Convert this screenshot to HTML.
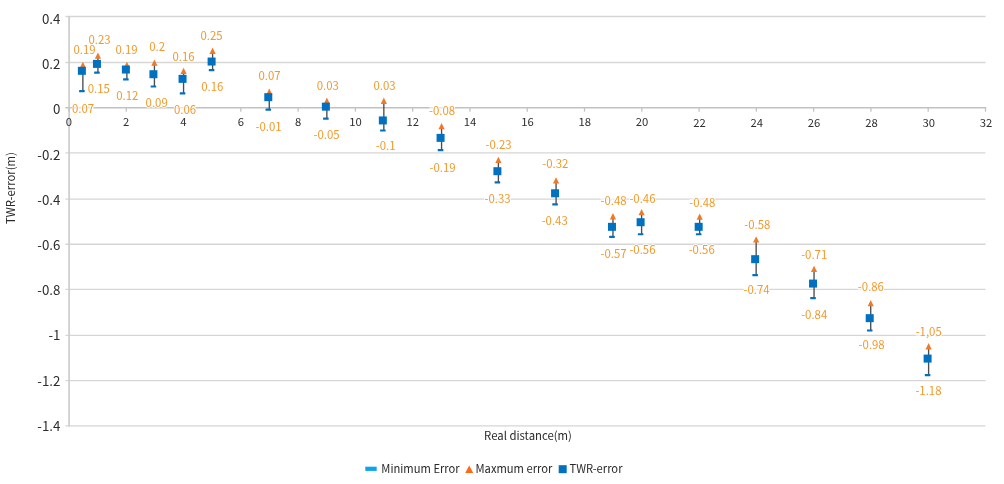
<!DOCTYPE html>
<html lang="en"><head><meta charset="utf-8"><title>TWR-error vs Real distance</title>
<style>html,body{margin:0;padding:0;background:#fff;}body{width:1004px;height:484px;overflow:hidden;}svg{display:block;font-family:'Noto Sans CJK SC', 'Liberation Sans', sans-serif;}.ax{font-size:13.3px;fill:#2d2d2d;}.dl{font-size:11.4px;fill:#f09a2c;stroke:#fff;stroke-width:1.6px;paint-order:stroke;stroke-linejoin:round;}.lg{font-size:11.35px;fill:#2a2a2a;}.lk{font-size:11.2px;}</style></head><body>
<svg width="1004" height="484" viewBox="0 0 1004 484">
<rect width="1004" height="484" fill="#fff"/>
<g stroke="#d6d6d6" stroke-width="1.3">
<line x1="65.40" y1="16.50" x2="985.48" y2="16.50"/>
<line x1="65.40" y1="62.50" x2="985.48" y2="62.50"/>
<line x1="65.40" y1="152.85" x2="985.48" y2="152.85"/>
<line x1="65.40" y1="199.07" x2="985.48" y2="199.07"/>
<line x1="65.40" y1="244.25" x2="985.48" y2="244.25"/>
<line x1="65.40" y1="289.42" x2="985.48" y2="289.42"/>
<line x1="65.40" y1="335.45" x2="985.48" y2="335.45"/>
<line x1="65.40" y1="380.58" x2="985.48" y2="380.58"/>
<line x1="65.40" y1="425.78" x2="985.48" y2="425.78"/>
</g>
<g stroke="#c1c1c1" stroke-width="1.5" fill="none">
<line x1="65.40" y1="107.80" x2="986.28" y2="107.80"/>
<line x1="69.10" y1="15.90" x2="69.10" y2="426.38" stroke="#cdcdcd" stroke-width="1.7"/>
</g>
<g stroke="#c3c3c3" stroke-width="1.3">
<line x1="69.00" y1="107.80" x2="69.00" y2="111.70"/>
<line x1="126.28" y1="107.80" x2="126.28" y2="111.70"/>
<line x1="183.56" y1="107.80" x2="183.56" y2="111.70"/>
<line x1="240.84" y1="107.80" x2="240.84" y2="111.70"/>
<line x1="298.12" y1="107.80" x2="298.12" y2="111.70"/>
<line x1="355.40" y1="107.80" x2="355.40" y2="111.70"/>
<line x1="412.68" y1="107.80" x2="412.68" y2="111.70"/>
<line x1="469.96" y1="107.80" x2="469.96" y2="111.70"/>
<line x1="527.24" y1="107.80" x2="527.24" y2="111.70"/>
<line x1="584.52" y1="107.80" x2="584.52" y2="111.70"/>
<line x1="641.80" y1="107.80" x2="641.80" y2="111.70"/>
<line x1="699.08" y1="107.80" x2="699.08" y2="111.70"/>
<line x1="756.36" y1="107.80" x2="756.36" y2="111.70"/>
<line x1="813.64" y1="107.80" x2="813.64" y2="111.70"/>
<line x1="870.92" y1="107.80" x2="870.92" y2="111.70"/>
<line x1="928.20" y1="107.80" x2="928.20" y2="111.70"/>
<line x1="985.48" y1="107.80" x2="985.48" y2="111.70"/>
</g>
<g fill="#fff" fill-opacity="0.55">
<rect x="73.59" y="45.23" width="21.75" height="9.2"/>
<rect x="72.19" y="103.91" width="21.75" height="9.2"/>
<rect x="88.66" y="35.39" width="21.75" height="9.2"/>
<rect x="87.91" y="84.62" width="21.75" height="9.2"/>
<rect x="115.70" y="45.33" width="21.75" height="9.2"/>
<rect x="116.40" y="91.74" width="21.75" height="9.2"/>
<rect x="149.41" y="42.76" width="15.42" height="9.2"/>
<rect x="145.79" y="98.16" width="21.75" height="9.2"/>
<rect x="172.68" y="52.40" width="21.75" height="9.2"/>
<rect x="174.13" y="105.43" width="21.75" height="9.2"/>
<rect x="200.62" y="31.40" width="21.75" height="9.2"/>
<rect x="201.47" y="82.60" width="21.75" height="9.2"/>
<rect x="258.60" y="71.61" width="21.75" height="9.2"/>
<rect x="255.78" y="122.49" width="25.71" height="9.2"/>
<rect x="316.88" y="81.80" width="21.75" height="9.2"/>
<rect x="313.71" y="130.34" width="25.71" height="9.2"/>
<rect x="373.66" y="81.40" width="21.75" height="9.2"/>
<rect x="375.95" y="141.20" width="19.38" height="9.2"/>
<rect x="429.27" y="106.70" width="25.71" height="9.2"/>
<rect x="429.77" y="163.61" width="25.71" height="9.2"/>
<rect x="485.75" y="140.50" width="25.71" height="9.2"/>
<rect x="484.75" y="194.63" width="25.71" height="9.2"/>
<rect x="542.53" y="159.01" width="25.71" height="9.2"/>
<rect x="541.88" y="216.66" width="25.71" height="9.2"/>
<rect x="600.66" y="196.22" width="25.71" height="9.2"/>
<rect x="600.66" y="249.73" width="25.71" height="9.2"/>
<rect x="629.60" y="194.78" width="25.71" height="9.2"/>
<rect x="629.60" y="245.41" width="25.71" height="9.2"/>
<rect x="689.53" y="198.62" width="25.71" height="9.2"/>
<rect x="688.83" y="245.41" width="25.71" height="9.2"/>
<rect x="744.51" y="220.15" width="25.71" height="9.2"/>
<rect x="743.76" y="285.82" width="25.71" height="9.2"/>
<rect x="801.34" y="250.30" width="25.71" height="9.2"/>
<rect x="801.34" y="310.35" width="25.71" height="9.2"/>
<rect x="858.07" y="282.10" width="25.71" height="9.2"/>
<rect x="858.82" y="340.87" width="25.71" height="9.2"/>
<rect x="915.85" y="327.38" width="25.71" height="9.2"/>
<rect x="915.60" y="386.43" width="25.71" height="9.2"/>
</g>
<g class="ax" text-anchor="middle" style="font-size:11.3px">
<text x="68.80" y="125.90">0</text>
<text x="126.13" y="125.90">2</text>
<text x="183.46" y="125.90">4</text>
<text x="240.79" y="125.90">6</text>
<text x="298.12" y="125.90">8</text>
<text x="355.45" y="125.90">10</text>
<text x="412.78" y="125.90">12</text>
<text x="470.11" y="126.20">14</text>
<text x="527.44" y="126.20">16</text>
<text x="584.77" y="126.20">18</text>
<text x="642.10" y="126.20">20</text>
<text x="699.43" y="126.60">22</text>
<text x="756.76" y="126.60">24</text>
<text x="814.09" y="126.60">26</text>
<text x="871.42" y="126.60">28</text>
<text x="928.75" y="126.60">30</text>
<text x="986.08" y="126.60">32</text>
</g>
<g class="ax" text-anchor="end">
<text x="60.40" y="23.60">0.4</text>
<text x="60.40" y="68.86">0.2</text>
<text x="60.40" y="114.36">0</text>
<text x="60.40" y="159.70">-0.2</text>
<text x="60.40" y="204.86">-0.4</text>
<text x="60.40" y="249.86">-0.6</text>
<text x="60.40" y="295.10">-0.8</text>
<text x="60.40" y="340.10">-1</text>
<text x="60.40" y="385.60">-1.2</text>
<text x="60.40" y="430.86">-1.4</text>
</g>
<text class="lg" x="528" y="440" text-anchor="middle" textLength="87.83" lengthAdjust="spacingAndGlyphs">Real distance(m)</text>
<text class="lg" transform="translate(14.6,188.1) rotate(-90)" text-anchor="middle" textLength="71.92" lengthAdjust="spacingAndGlyphs">TWR-error(m)</text>
<g stroke="#4d4d4d" stroke-width="1.35">
<line x1="82.87" y1="64.73" x2="82.87" y2="91.06"/>
<line x1="97.94" y1="55.54" x2="97.94" y2="72.67"/>
<line x1="126.88" y1="64.73" x2="126.88" y2="79.44"/>
<line x1="154.42" y1="62.56" x2="154.42" y2="86.51"/>
<line x1="183.56" y1="70.65" x2="183.56" y2="93.33"/>
<line x1="212.60" y1="50.60" x2="212.60" y2="70.10"/>
<line x1="269.28" y1="91.51" x2="269.28" y2="109.54"/>
<line x1="326.86" y1="100.60" x2="326.86" y2="118.64"/>
<line x1="383.84" y1="100.60" x2="383.84" y2="130.50"/>
<line x1="441.57" y1="126.00" x2="441.57" y2="150.16"/>
<line x1="498.40" y1="159.70" x2="498.40" y2="182.38"/>
<line x1="556.08" y1="180.16" x2="556.08" y2="204.31"/>
<line x1="612.96" y1="216.12" x2="612.96" y2="236.83"/>
<line x1="641.60" y1="211.98" x2="641.60" y2="234.26"/>
<line x1="699.68" y1="216.52" x2="699.68" y2="234.26"/>
<line x1="756.16" y1="239.25" x2="756.16" y2="275.17"/>
<line x1="814.04" y1="268.80" x2="814.04" y2="298.20"/>
<line x1="870.72" y1="302.90" x2="870.72" y2="330.52"/>
<line x1="928.60" y1="346.09" x2="928.60" y2="375.18"/>
</g>
<g fill="#0070c0">
<rect x="79.07" y="89.96" width="5.6" height="2.2" rx="0.5"/>
<rect x="94.14" y="71.58" width="5.6" height="2.2" rx="0.5"/>
<rect x="123.08" y="78.34" width="5.6" height="2.2" rx="0.5"/>
<rect x="150.62" y="85.41" width="5.6" height="2.2" rx="0.5"/>
<rect x="179.76" y="92.23" width="5.6" height="2.2" rx="0.5"/>
<rect x="208.80" y="69.00" width="5.6" height="2.2" rx="0.5"/>
<rect x="265.48" y="108.44" width="5.6" height="2.2" rx="0.5"/>
<rect x="323.06" y="117.54" width="5.6" height="2.2" rx="0.5"/>
<rect x="380.04" y="129.40" width="5.6" height="2.2" rx="0.5"/>
<rect x="437.77" y="149.06" width="5.6" height="2.2" rx="0.5"/>
<rect x="494.60" y="181.28" width="5.6" height="2.2" rx="0.5"/>
<rect x="552.28" y="203.21" width="5.6" height="2.2" rx="0.5"/>
<rect x="609.16" y="235.73" width="5.6" height="2.2" rx="0.5"/>
<rect x="637.80" y="233.16" width="5.6" height="2.2" rx="0.5"/>
<rect x="695.88" y="233.16" width="5.6" height="2.2" rx="0.5"/>
<rect x="752.36" y="274.07" width="5.6" height="2.2" rx="0.5"/>
<rect x="810.24" y="297.10" width="5.6" height="2.2" rx="0.5"/>
<rect x="866.92" y="329.42" width="5.6" height="2.2" rx="0.5"/>
<rect x="924.80" y="374.08" width="5.6" height="2.2" rx="0.5"/>
</g>
<g fill="#ee7a28">
<path d="M82.87 61.73 l3.1 6.3 h-6.2 z"/>
<path d="M97.94 52.54 l3.1 6.3 h-6.2 z"/>
<path d="M126.88 61.73 l3.1 6.3 h-6.2 z"/>
<path d="M154.42 59.56 l3.1 6.3 h-6.2 z"/>
<path d="M183.56 67.65 l3.1 6.3 h-6.2 z"/>
<path d="M212.60 47.60 l3.1 6.3 h-6.2 z"/>
<path d="M269.28 88.51 l3.1 6.3 h-6.2 z"/>
<path d="M326.86 97.60 l3.1 6.3 h-6.2 z"/>
<path d="M383.84 97.60 l3.1 6.3 h-6.2 z"/>
<path d="M441.57 123.00 l3.1 6.3 h-6.2 z"/>
<path d="M498.40 156.70 l3.1 6.3 h-6.2 z"/>
<path d="M556.08 177.16 l3.1 6.3 h-6.2 z"/>
<path d="M612.96 213.12 l3.1 6.3 h-6.2 z"/>
<path d="M641.60 208.98 l3.1 6.3 h-6.2 z"/>
<path d="M699.68 213.52 l3.1 6.3 h-6.2 z"/>
<path d="M756.16 236.25 l3.1 6.3 h-6.2 z"/>
<path d="M814.04 265.80 l3.1 6.3 h-6.2 z"/>
<path d="M870.72 299.90 l3.1 6.3 h-6.2 z"/>
<path d="M928.60 343.09 l3.1 6.3 h-6.2 z"/>
</g>
<g fill="#0070c0">
<rect x="77.87" y="66.82" width="8" height="8"/>
<rect x="92.94" y="59.89" width="8" height="8"/>
<rect x="121.88" y="65.53" width="8" height="8"/>
<rect x="149.42" y="70.23" width="8" height="8"/>
<rect x="178.56" y="74.85" width="8" height="8"/>
<rect x="207.60" y="57.55" width="8" height="8"/>
<rect x="264.28" y="93.17" width="8" height="8"/>
<rect x="321.86" y="102.65" width="8" height="8"/>
<rect x="378.84" y="116.44" width="8" height="8"/>
<rect x="436.57" y="133.88" width="8" height="8"/>
<rect x="493.40" y="167.20" width="8" height="8"/>
<rect x="551.08" y="189.27" width="8" height="8"/>
<rect x="607.96" y="222.84" width="8" height="8"/>
<rect x="636.60" y="218.21" width="8" height="8"/>
<rect x="694.68" y="222.82" width="8" height="8"/>
<rect x="751.16" y="255.17" width="8" height="8"/>
<rect x="809.04" y="279.58" width="8" height="8"/>
<rect x="865.72" y="314.17" width="8" height="8"/>
<rect x="923.60" y="354.59" width="8" height="8"/>
</g>
<g class="dl" text-anchor="middle">
<text x="84.47" y="53.83">0.19</text>
<text x="83.07" y="112.51">0.07</text>
<text x="99.54" y="43.99">0.23</text>
<text x="98.79" y="93.22">0.15</text>
<text x="126.58" y="53.93">0.19</text>
<text x="127.28" y="100.34">0.12</text>
<text x="157.12" y="51.36">0.2</text>
<text x="156.67" y="106.76">0.09</text>
<text x="183.56" y="61.00">0.16</text>
<text x="185.01" y="114.03">0.06</text>
<text x="211.50" y="40.00">0.25</text>
<text x="212.35" y="91.20">0.16</text>
<text x="269.48" y="80.21">0.07</text>
<text x="268.63" y="131.09">-0.01</text>
<text x="327.76" y="90.40">0.03</text>
<text x="326.56" y="138.94">-0.05</text>
<text x="384.54" y="90.00">0.03</text>
<text x="385.64" y="149.80">-0.1</text>
<text x="442.12" y="115.30">-0.08</text>
<text x="442.62" y="172.21">-0.19</text>
<text x="498.60" y="149.10">-0.23</text>
<text x="497.60" y="203.23">-0.33</text>
<text x="555.38" y="167.61">-0.32</text>
<text x="554.73" y="225.26">-0.43</text>
<text x="613.51" y="204.82">-0.48</text>
<text x="613.51" y="258.33">-0.57</text>
<text x="642.45" y="203.38">-0.46</text>
<text x="642.45" y="254.01">-0.56</text>
<text x="702.38" y="207.22">-0.48</text>
<text x="701.68" y="254.01">-0.56</text>
<text x="757.36" y="228.75">-0.58</text>
<text x="756.61" y="294.42">-0.74</text>
<text x="814.19" y="258.90">-0.71</text>
<text x="814.19" y="318.95">-0.84</text>
<text x="870.92" y="290.70">-0.86</text>
<text x="871.67" y="349.47">-0.98</text>
<text x="928.70" y="335.99">-1,05</text>
<text x="928.45" y="395.03">-1.18</text>
</g>
<rect x="365.3" y="466.7" width="11.4" height="4.2" fill="#0da5ea"/>
<text class="lg lk" x="381.3" y="473.4" textLength="78.36" lengthAdjust="spacingAndGlyphs">Minimum Error</text>
<path d="M469.2 465.4 l4 7.5 h-8 z" fill="#ff6a13"/>
<text class="lg lk" x="475.5" y="473.4" textLength="76.86" lengthAdjust="spacingAndGlyphs">Maxmum error</text>
<rect x="558.7" y="465.2" width="8" height="8" fill="#0070c0"/>
<text class="lg lk" x="569.5" y="473.4" textLength="53" lengthAdjust="spacingAndGlyphs">TWR-error</text>
</svg></body></html>
